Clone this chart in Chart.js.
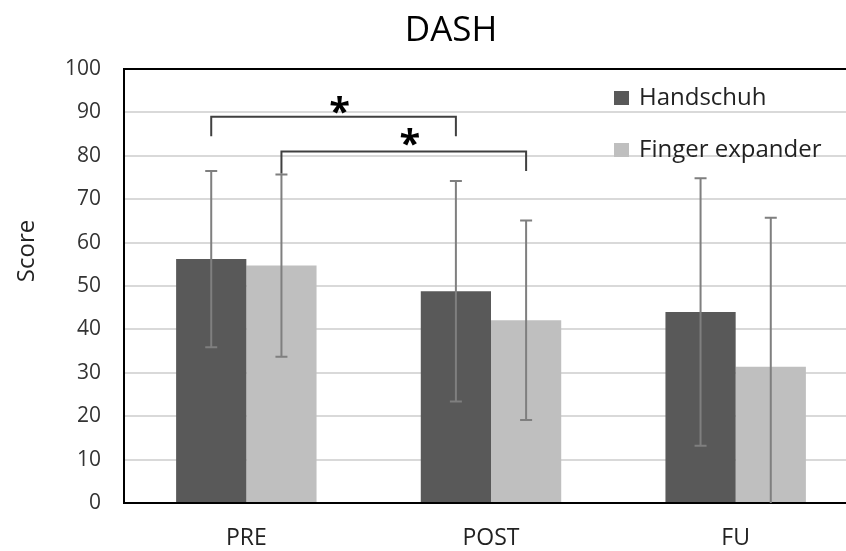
<!DOCTYPE html>
<html>
<head>
<meta charset="utf-8">
<script src="https://cdn.jsdelivr.net/npm/chart.js@4.4.1/dist/chart.umd.min.js"></script>
<style>
  html, body { margin: 0; padding: 0; background: #fff; overflow: hidden; }
  #wrap { position: relative; width: 858px; height: 551px; }
</style>
</head>
<body>
<div id="wrap"><canvas id="myChart"></canvas></div>
<script>
// data
const categories = ["PRE", "POST", "FU"];
const seriesNames = ["Handschuh", "Finger expander"];
const handschuh = [56.2, 48.8, 44.0];
const handschuhSD = [20.3, 25.4, 30.8];
const fingerExp = [54.7, 42.1, 31.4];
const fingerExpSD = [21.0, 23.0, 34.3];
const yTicks = [0, 10, 20, 30, 40, 50, 60, 70, 80, 90, 100];

// significance brackets: [category, dataset] at each end, end values, top value, star value
const brackets = [
  { from: [0, 0], to: [1, 0], ends: [84.5, 84.5], top: 89, star: 91.7 },
  { from: [0, 1], to: [1, 1], ends: [75.9, 76.5], top: 81, star: 84.2 }
];

const FONT = "'Open Sans', 'DejaVu Sans', sans-serif";
const sdLists = [handschuhSD, fingerExpSD];

const extras = {
  id: "extras",
  afterDatasetsDraw(chart) {
    const ctx = chart.ctx;
    const area = chart.chartArea;
    const y = chart.scales.y;

    // error bars
    ctx.save();
    ctx.beginPath();
    ctx.rect(area.left, area.top, area.right - area.left, area.bottom - area.top);
    ctx.clip();
    ctx.strokeStyle = "#7f7f7f";
    ctx.lineWidth = 2;
    chart.data.datasets.forEach((ds, d) => {
      const meta = chart.getDatasetMeta(d);
      meta.data.forEach((bar, i) => {
        const hi = y.getPixelForValue(ds.data[i] + sdLists[d][i]);
        const lo = y.getPixelForValue(ds.data[i] - sdLists[d][i]);
        ctx.beginPath();
        ctx.moveTo(bar.x, hi); ctx.lineTo(bar.x, lo);
        ctx.moveTo(bar.x - 6, hi); ctx.lineTo(bar.x + 6, hi);
        ctx.moveTo(bar.x - 6, lo); ctx.lineTo(bar.x + 6, lo);
        ctx.stroke();
      });
    });
    ctx.restore();

    // top border of the plot box
    ctx.save();
    ctx.strokeStyle = "#000";
    ctx.lineWidth = 2;
    ctx.beginPath();
    ctx.moveTo(area.left, area.top);
    ctx.lineTo(area.right, area.top);
    ctx.stroke();

    // brackets + stars
    ctx.strokeStyle = "#404040";
    ctx.lineWidth = 2;
    ctx.fillStyle = "#000";
    ctx.font = "bold 38px " + FONT;
    ctx.textAlign = "center";
    ctx.textBaseline = "middle";
    brackets.forEach(b => {
      const x1 = chart.getDatasetMeta(b.from[1]).data[b.from[0]].x;
      const x2 = chart.getDatasetMeta(b.to[1]).data[b.to[0]].x;
      const yt = y.getPixelForValue(b.top);
      ctx.beginPath();
      ctx.moveTo(x1, y.getPixelForValue(b.ends[0]));
      ctx.lineTo(x1, yt);
      ctx.lineTo(x2, yt);
      ctx.lineTo(x2, y.getPixelForValue(b.ends[1]));
      ctx.stroke();
      ctx.fillText("*", (x1 + x2) / 2 + 6, y.getPixelForValue(b.star) + 9);
    });

    // title
    ctx.font = "35px " + FONT;
    ctx.fillText("DASH", 451, 31);

    // y axis title
    ctx.save();
    ctx.translate(27, 251);
    ctx.rotate(-Math.PI / 2);
    ctx.fillStyle = "#222";
    ctx.font = "24px " + FONT;
    ctx.fillText("Score", 0, 0);
    ctx.restore();

    // legend
    ctx.textAlign = "left";
    ctx.font = "24px " + FONT;
    chart.data.datasets.forEach((ds, d) => {
      const cy = 98 + d * 52;
      ctx.fillStyle = ds.backgroundColor;
      ctx.fillRect(614, cy - 7, 15, 14);
      ctx.fillStyle = "#222";
      ctx.fillText(ds.label, 639, cy);
    });
    ctx.restore();
  }
};

const ctx = document.getElementById("myChart");
new Chart(ctx, {
  type: "bar",
  data: {
    labels: categories,
    datasets: [
      { label: seriesNames[0], data: handschuh, backgroundColor: "#595959" },
      { label: seriesNames[1], data: fingerExp, backgroundColor: "#bfbfbf" }
    ]
  },
  options: {
    responsive: true,
    maintainAspectRatio: false,
    animation: false,
    layout: { padding: { top: 69, right: 0, left: 0, bottom: 0 } },
    datasets: { bar: { barPercentage: 1, categoryPercentage: 0.574, borderWidth: 0 } },
    plugins: {
      legend: { display: false },
      title: { display: false },
      tooltip: { enabled: false }
    },
    scales: {
      x: {
        grid: { display: false, drawTicks: false },
        border: { display: true, color: "#000", width: 2 },
        ticks: { color: "#222", font: { family: FONT, size: 23 }, padding: 22 },
        afterFit: s => { s.height = 48; }
      },
      y: {
        min: 0,
        max: 100,
        afterBuildTicks: s => { s.ticks = yTicks.map(v => ({ value: v })); },
        grid: { color: "#d9d9d9", lineWidth: 2, drawTicks: false },
        border: { display: true, color: "#000", width: 2 },
        ticks: { color: "#333", font: { family: FONT, size: 21 }, padding: 23 },
        afterFit: s => { s.width = 124; }
      }
    }
  },
  plugins: [extras]
});
</script>
</body>
</html>
